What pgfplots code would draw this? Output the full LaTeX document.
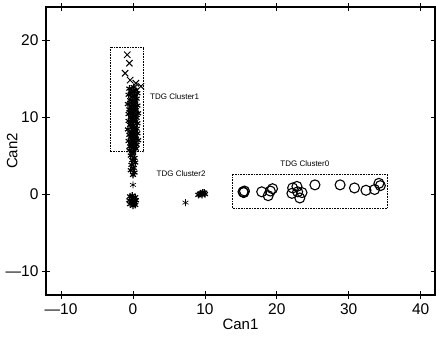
\documentclass[border=0pt]{standalone}
\usepackage{pgfplots}
\pgfplotsset{compat=1.18}
\usepackage{fontspec}
\setmainfont{Liberation Sans}
\begin{document}
\begin{tikzpicture}
\begin{axis}[
  scale only axis, width=389pt, height=288pt,
  at={(0,0)}, anchor=south west,
  xmin=-12.1, xmax=42, ymin=-13.1, ymax=24.3,
  xtick={-10,0,10,20,30,40}, ytick={-10,0,10,20},
  xticklabels={—10,0,10,20,30,40}, yticklabels={—10,0,10,20},
  tick pos=both, tick align=center, major tick length=8pt,
  axis line style={line width=1.1pt}, tick style={line width=0.8pt, black},
  tick label style={font=\fontsize{15.5}{16}\selectfont},
  xticklabel style={yshift=-1pt},
  xlabel={Can1}, ylabel={Can2},
  label style={font=\fontsize{15}{16}\selectfont},
  xlabel style={yshift=2pt},
  every axis y label/.style={at={(axis description cs:-0.087,0.5)}, rotate=90, anchor=center, font=\fontsize{15}{16}\selectfont},
  clip=false,
]
% TDG Cluster1
\addplot[only marks, mark=x, mark size=4.5pt, line width=1pt] coordinates {
(-0.8,18.1) (-0.5,17.0) (-1.1,15.7) (-0.4,14.8) (0.4,14.4) (1.1,14.0)
};
\addplot[only marks, mark=asterisk, mark size=3.5pt, line width=1.2pt] coordinates {
(0.1,13.9) (-0.5,13.7) (0.4,13.5) (-0.2,13.3) (0.6,13.1) (-0.6,12.9) (0.2,12.8) (-0.1,12.6) (0.5,12.4) (-0.4,12.2)
(0.0,12.0) (0.3,11.9) (-0.7,11.7) (0.6,11.5) (-0.2,11.4) (0.2,11.2) (-0.5,11.0) (0.4,10.9) (-0.1,10.7) (0.7,10.5)
(-0.6,10.4) (0.1,10.2) (-0.3,10.0) (0.5,9.9) (0.0,9.7) (-0.6,9.5) (0.3,9.4) (0.6,9.2) (-0.4,9.0) (0.1,8.9)
(-0.2,8.7) (0.5,8.5) (-0.7,8.4) (0.2,8.2) (-0.1,8.0) (0.6,7.9) (-0.5,7.7) (0.3,7.5) (-0.3,7.4) (0.0,7.2)
(0.7,7.0) (-0.6,6.9) (0.2,6.7) (-0.2,6.5) (0.5,6.4) (-0.4,6.2) (0.1,6.0) (0.4,5.9) (-0.5,5.7) (0.0,5.5)
(-0.3,13.0) (0.3,12.1) (-0.2,11.8) (0.1,11.0) (-0.4,10.6) (0.3,10.1) (-0.2,9.2) (0.2,8.6) (-0.3,7.9) (0.4,7.2)
(-0.1,6.8) (0.2,6.1) (0.0,13.4) (0.2,10.8) (-0.1,9.6) (0.0,8.3) (0.1,7.6) (-0.2,6.3)
};
% TDG Cluster2
\addplot[only marks, mark=asterisk, mark size=3.5pt, line width=1.2pt] coordinates {
(0.0,5.3) (-0.3,5.0) (0.2,4.7) (-0.1,4.4) (0.3,4.1) (-0.2,3.8) (0.1,3.4) (-0.3,3.1) (0.2,2.8) (0.0,2.5)
(-0.4,-0.3) (0.3,-0.4) (0.0,-0.6) (-0.5,-0.8) (0.4,-0.8) (-0.2,-1.0) (0.2,-1.1) (-0.4,-1.3) (0.3,-1.4)
(0.0,-1.5) (-0.1,-0.2) (0.1,-0.9)
(9.1,-0.1) (9.4,0.1) (9.7,0.2) (10.0,0.0) (9.6,-0.1) (9.9,0.2) (9.3,0.0)
};
\addplot[only marks, mark=asterisk, mark size=3.5pt, line width=0.6pt] coordinates {
(0.0,1.2) (7.3,-1.1)
};
% TDG Cluster0
\addplot[only marks, mark=o, mark size=5pt, line width=1.1pt] coordinates {
(15.3,0.3) (15.4,0.2) (15.5,0.4) (17.9,0.3) (18.8,-0.2) (19.4,0.7) (19.1,0.4)
(22.2,0.8) (22.8,1.0) (22.1,0.1) (23.2,-0.5) (22.9,0.3) (23.5,0.2) (25.3,1.2)
(28.8,1.2) (30.8,0.8) (32.4,0.5) (33.6,0.6) (34.2,1.4) (34.4,1.1)
};
\draw[densely dotted, line width=0.6pt] (axis cs:-3.2,5.5) rectangle (axis cs:1.5,19.1);
\draw[densely dotted, line width=0.6pt] (axis cs:13.75,-1.8) rectangle (axis cs:35.4,2.6);
\node[anchor=west, font=\fontsize{8}{9}\selectfont] at (axis cs:1.9,12.6) {TDG Cluster1};
\node[anchor=west, font=\fontsize{8}{9}\selectfont] at (axis cs:2.8,2.6) {TDG Cluster2};
\node[font=\fontsize{8}{9}\selectfont] at (axis cs:23.9,3.9) {TDG Cluster0};
\end{axis}
\pgfresetboundingbox
\path[use as bounding box] (-46pt,-44pt) rectangle (390pt,295pt);
\end{tikzpicture}
\end{document}
